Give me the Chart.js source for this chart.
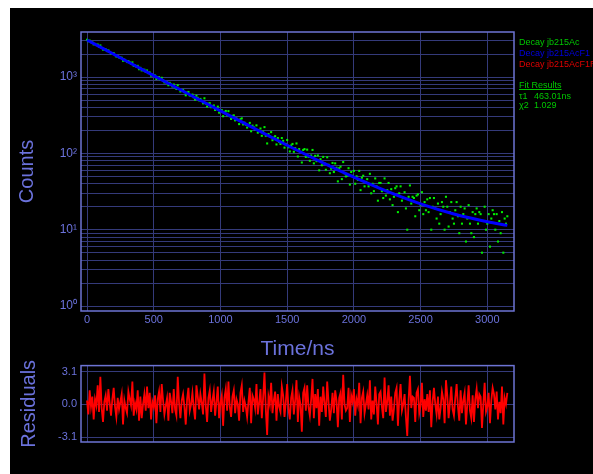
<!DOCTYPE html>
<html>
<head>
<meta charset="utf-8">
<script src="https://cdn.jsdelivr.net/npm/chart.js"></script>
<style>
  html, body { margin: 0; padding: 0; background: #fff; width: 593px; height: 474px; overflow: hidden; }
  #panel { position: absolute; left: 10px; top: 8px; width: 583px; height: 466px; background: #000; }
  canvas { position: absolute; left: 0; }
  #decayCanvas { top: 0; }
  #residCanvas { top: 355px; }
  .key { position: absolute; left: 519px; height: 11px; line-height: 11px; white-space: nowrap;
         font: 9px "Liberation Sans", Arial, sans-serif; }
  .key .sym { display: inline-block; width: 15px; }
</style>
</head>
<body>
<div id="panel"></div>
<canvas id="decayCanvas" width="593" height="362"></canvas>
<canvas id="residCanvas" width="593" height="119"></canvas>

<div class="key" style="top:37px;color:#00c800">Decay jb215Ac</div>
<div class="key" style="top:48px;color:#0000e0">Decay jb215AcF1</div>
<div class="key" style="top:59px;color:#e00000">Decay jb215AcF1R</div>
<div class="key" style="top:80px;color:#00c800;text-decoration:underline">Fit Results</div>
<div class="key" style="top:91px;color:#00c800"><span class="sym">τ1</span>463.01ns</div>
<div class="key" style="top:100px;color:#00c800"><span class="sym">χ2</span>1.029</div>

<script>
/* ---------- DATA ---------- */

// one channel every 10 ns, starting at t = 0
const channelNs = 10;

const decayCounts = [
  3088, 2950, 3012, 2863, 2855, 2682, 2720, 2632, 2674, 2491,
  2602, 2404, 2288, 2331, 2310, 2193, 2240, 2133, 2032, 2060,
  2062, 1942, 1858, 1896, 1809, 1801, 1793, 1636, 1694, 1628,
  1575, 1621, 1560, 1503, 1561, 1404, 1419, 1366, 1404, 1268,
  1323, 1223, 1243, 1251, 1170, 1222, 1129, 1153, 1044, 1078,
  1039, 1052, 945, 998, 1000, 918, 979, 912, 852, 859,
  862, 782, 841, 800, 752, 799, 730, 698, 781, 700,
  648, 677, 679, 634, 577, 625, 639, 573, 575, 590,
  543, 506, 570, 534, 495, 518, 488, 453, 528, 452,
  411, 449, 455, 403, 418, 425, 371, 389, 410, 342,
  363, 369, 307, 350, 360, 314, 358, 307, 283, 311,
  315, 271, 288, 274, 242, 281, 288, 240, 253, 238,
  218, 236, 251, 195, 231, 220, 204, 233, 187, 198,
  212, 170, 193, 221, 170, 135, 179, 167, 190, 149,
  161, 168, 131, 159, 141, 133, 159, 146, 119, 133,
  150, 120, 106, 127, 133, 105, 117, 135, 91, 114,
  105, 76, 111, 114, 90, 112, 90, 80, 94, 111,
  74, 93, 79, 94, 60, 84, 70, 90, 74, 61,
  89, 71, 55, 63, 75, 57, 74, 65, 43, 64,
  67, 46, 77, 55, 50, 51, 64, 39, 57, 51,
  59, 40, 50, 45, 59, 33, 48, 51, 37, 42,
  46, 37, 54, 30, 40, 32, 47, 37, 24, 41,
  41, 32, 26, 47, 28, 33, 41, 25, 34, 21,
  27, 35, 37, 17, 30, 37, 24, 26, 31, 19,
  10, 27, 38, 22, 27, 26, 15, 28, 29, 18,
  21, 31, 16, 23, 18, 25, 17, 26, 10, 20,
  26, 19, 14, 22, 12, 16, 23, 20, 10, 27,
  20, 11, 17, 23, 14, 12, 18, 23, 15, 9,
  20, 12, 16, 19, 7, 14, 21, 12, 9, 17,
  8, 16, 19, 12, 17, 16, 5, 13, 20, 10,
  12, 16, 6, 14, 18, 16, 10, 16, 7, 13,
  9, 17, 5, 14, 12, 15
];

// single-exponential fit (tau = 463.01 ns) plus flat background
const fitTimes = [0, 250, 500, 750, 1000, 1250, 1500, 1750, 2000, 2250, 2500, 2750, 3000, 3150];
const fitCounts = [3068, 1791, 1047, 614, 361, 214, 128, 78, 48.7, 31.7, 21.8, 16.05, 12.7, 11.4];

// weighted residuals, same channels as decayCounts
const residuals = [
  0.36, -0.96, 1.32, -0.24, 0.72, -1.44, 0.48, -0.12, 1.80, -0.72,
  2.60, -0.36, -1.68, 0.24, 0.84, -0.60, 1.44, 0.12, -1.08, 0.48,
  1.56, -0.24, -1.20, 0.60, -0.48, 0.24, 0.96, -1.92, 0.36, -0.36,
  -0.84, 1.20, 0.48, -0.12, 2.16, -1.08, 0.12, -0.48, 1.32, -1.56,
  0.72, -1.32, 0.00, 0.96, -0.60, 1.68, -0.36, 1.08, -1.44, 0.24,
  -0.24, 0.84, -1.80, 0.48, 1.20, -0.72, 1.92, 0.36, -0.96, -0.12,
  0.60, -1.56, 1.08, 0.24, -0.84, 1.44, -0.48, -1.08, 2.60, 0.12,
  -1.32, 0.36, 0.96, -0.24, -1.92, 0.48, 1.56, -0.60, 0.00, 1.08,
  -0.36, -1.44, 1.80, 0.72, -0.48, 0.96, 0.12, -0.96, 2.90, -0.12,
  -1.68, 0.60, 1.32, -0.72, 0.36, 1.20, -1.08, 0.24, 1.68, -1.32,
  0.12, 0.84, -2.04, 0.60, 1.44, -0.60, 2.16, -0.24, -1.20, 0.72,
  1.32, -0.84, 0.48, 0.00, -1.56, 1.08, 1.80, -0.72, 0.36, -0.24,
  -1.20, 0.24, 1.56, -1.80, 0.84, 0.48, -0.36, 1.92, -0.96, 0.12,
  1.44, -1.32, 0.60, 3.00, -0.48, -2.90, 0.72, 0.00, 2.04, -0.84,
  0.36, 1.20, -1.56, 0.96, -0.24, -0.72, 1.68, 0.84, -1.20, 0.24,
  1.92, -0.48, -1.44, 0.60, 1.32, -0.96, 0.36, 2.28, -1.68, 0.72,
  0.00, -2.60, 1.08, 1.56, -0.60, 1.80, -0.24, -1.08, 0.48, 2.40,
  -1.32, 0.96, -0.36, 1.44, -2.04, 0.72, -0.72, 1.68, 0.12, -1.20,
  2.16, 0.24, -1.56, -0.48, 1.08, -0.84, 1.32, 0.36, -2.16, 0.60,
  1.08, -1.44, 2.80, 0.00, -0.60, -0.36, 1.56, -1.68, 0.84, 0.24,
  1.44, -1.08, 0.48, -0.12, 2.04, -1.80, 0.60, 1.20, -0.84, 0.00,
  0.84, -0.48, 2.28, -1.44, 0.36, -0.96, 1.68, 0.12, -1.92, 0.96,
  1.20, -0.24, -1.32, 2.52, -0.72, 0.24, 1.80, -1.08, 0.72, -1.56,
  -0.48, 1.08, 1.56, -2.04, 0.48, 1.92, -0.60, 0.00, 0.96, -1.20,
  -3.00, 0.36, 2.70, -0.36, 0.72, 0.60, -1.68, 1.08, 1.44, -0.84,
  -0.12, 2.04, -1.20, 0.48, -0.60, 0.96, -0.72, 1.32, -2.16, 0.24,
  1.56, 0.00, -0.96, 0.72, -1.44, -0.36, 1.20, 0.48, -1.80, 2.28,
  0.84, -1.32, 0.12, 1.68, -0.48, -1.08, 0.60, 1.92, -0.24, -1.56,
  1.32, -0.84, 0.36, 1.08, -1.92, 0.00, 1.80, -0.60, -1.32, 0.84,
  -1.68, 0.48, 1.44, -0.36, 0.96, 0.72, -2.24, 0.00, 2.04, -0.72,
  -0.24, 1.08, -1.80, 0.36, 1.56, 0.96, -0.48, 1.20, -1.44, 0.24,
  -0.84, 1.68, -1.92, 0.60, 0.00, 1.08
];

const timeTicks = [0, 500, 1000, 1500, 2000, 2500, 3000];
const countTicks = [
  1, 2, 3, 4, 5, 6, 7, 8, 9,
  10, 20, 30, 40, 50, 60, 70, 80, 90,
  100, 200, 300, 400, 500, 600, 700, 800, 900,
  1000, 2000, 3000
];
const decadeLabels = { 1: "10⁰", 10: "10¹", 100: "10²", 1000: "10³" };
const residTicks = [-3.1, 0, 3.1];

/* ---------- STYLE ---------- */

const axisBlue = "#6b72dc";
const gridBlue = "#343a7a";
const frameBlue = "#6d74d4";
const fontFamily = "'Liberation Sans', Arial, sans-serif";

// box round the plot area
const frameBox = {
  id: "frameBox",
  afterDraw(chart) {
    const { ctx, chartArea: a } = chart;
    ctx.save();
    ctx.strokeStyle = frameBlue;
    ctx.lineWidth = 1.5;
    ctx.strokeRect(a.left, a.top, a.right - a.left, a.bottom - a.top);
    ctx.restore();
  }
};

function timeAxis(showLabels) {
  return {
    type: "linear",
    min: -45,
    max: 3200,
    afterBuildTicks: s => { s.ticks = timeTicks.map(v => ({ value: v })); },
    grid: { color: gridBlue, drawTicks: false },
    border: { display: false },
    ticks: {
      display: showLabels,
      color: axisBlue,
      font: { family: fontFamily, size: 11 },
      padding: 2,
      callback: v => String(v)
    }
  };
}

/* ---------- DECAY PLOT ---------- */

const xTop = timeAxis(true);
xTop.afterFit = s => { s.height = 51; };
xTop.title = {
  display: true, text: "Time/ns", color: axisBlue,
  font: { family: fontFamily, size: 21 }, padding: { top: 0, bottom: 0 }
};

new Chart(document.getElementById("decayCanvas"), {
  type: "scatter",
  data: {
    datasets: [
      {
        label: "Decay jb215Ac",
        data: decayCounts.map((c, i) => ({ x: i * channelNs, y: c })),
        pointStyle: "rect",
        pointRadius: 1.45,
        pointBorderWidth: 0,
        backgroundColor: "#00f000",
        order: 2
      },
      {
        label: "Decay jb215AcF1",
        data: fitTimes.map((t, i) => ({ x: t, y: fitCounts[i] })),
        showLine: true,
        borderColor: "#0000ff",
        borderWidth: 3,
        pointRadius: 0,
        cubicInterpolationMode: "monotone",
        order: 1
      }
    ]
  },
  options: {
    responsive: false,
    animation: false,
    layout: { padding: { left: 10, top: 32, right: 79, bottom: 0 } },
    plugins: { legend: { display: false }, tooltip: { enabled: false } },
    scales: {
      x: xTop,
      y: {
        type: "logarithmic",
        min: 0.86,
        max: 3900,
        afterBuildTicks: s => { s.ticks = countTicks.map(v => ({ value: v })); },
        afterFit: s => { s.width = 71; },
        grid: { color: gridBlue, drawTicks: false },
        border: { display: false },
        ticks: {
          color: axisBlue,
          font: { family: fontFamily, size: 12 },
          padding: 4,
          autoSkip: false,
          callback: v => decadeLabels[v] || ""
        },
        title: {
          display: true, text: "Counts", color: axisBlue,
          font: { family: fontFamily, size: 20 }, padding: { top: 5, bottom: 0 }
        }
      }
    }
  },
  plugins: [frameBox]
});

/* ---------- RESIDUALS ---------- */

const xBottom = timeAxis(false);
xBottom.afterFit = s => { s.height = 0; };

new Chart(document.getElementById("residCanvas"), {
  type: "scatter",
  data: {
    datasets: [
      {
        label: "Decay jb215AcF1R",
        data: residuals.map((r, i) => ({ x: i * channelNs, y: r })),
        showLine: true,
        borderColor: "#ff0000",
        borderWidth: 1.8,
        pointRadius: 0
      }
    ]
  },
  options: {
    responsive: false,
    animation: false,
    layout: { padding: { left: 10, top: 10, right: 79, bottom: 32 } },
    plugins: { legend: { display: false }, tooltip: { enabled: false } },
    scales: {
      x: xBottom,
      y: {
        type: "linear",
        min: -3.57,
        max: 3.66,
        afterBuildTicks: s => { s.ticks = residTicks.map(v => ({ value: v })); },
        afterFit: s => { s.width = 71; },
        grid: { color: gridBlue, drawTicks: false },
        border: { display: false },
        ticks: {
          color: axisBlue,
          font: { family: fontFamily, size: 11 },
          padding: 4,
          callback: v => v.toFixed(1)
        },
        title: {
          display: true, text: "Residuals", color: axisBlue,
          font: { family: fontFamily, size: 20 }, padding: { top: 7, bottom: 0 }
        }
      }
    }
  },
  plugins: [frameBox]
});
</script>
</body>
</html>
